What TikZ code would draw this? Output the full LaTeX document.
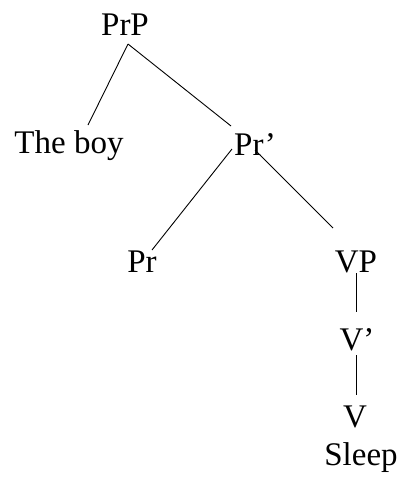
\documentclass[tikz,border=0pt]{standalone}
\usepackage{fontspec}
\setmainfont{Liberation Serif}
\usepackage{tikz}
\usetikzlibrary{positioning,calc}
\tikzset{
  cat/.style    = {font=\fontsize{33}{38}\selectfont, anchor=base, inner sep=0pt, outer sep=0pt},
  branch/.style = {draw=black, line width=0.9pt},
}
\begin{document}
\begin{tikzpicture}[x=1pt,y=-1pt]
\path[use as bounding box, fill=white] (0,0) rectangle (401,477);

% ---- the tree: labels sit on their baselines ----------------------------
\node[cat] (prp)   at (125,35)  {PrP};
\node[cat] (boy)   at (69,153)  {The boy};
\node[cat] (prbar) at (255,155) {Pr’};
\node[cat] (pr)    at (142,272) {Pr};
\node[cat] (vp)    at (356,272) {VP};
\node[cat] (vbar)  at (357,350) {V’};
\node[cat] (v)     at (355,427) {V};
\node[cat] (sleep) at (361,465) {Sleep};

% ---- branches -----------------------------------------------------------
\draw[branch] ([shift={(3,9)}]prp.base)     -- ([shift={(19,-28)}]boy.base);
\draw[branch] ([shift={(3,9)}]prp.base)     -- ([shift={(-24,-29)}]prbar.base);
\draw[branch] ([shift={(-23,-6)}]prbar.base) -- ([shift={(10,-22)}]pr.base);
\draw[branch] ([shift={(0,-5)}]prbar.base)   -- ([shift={(-23,-44)}]vp.base);
\draw[branch] ([shift={(0,1)}]vp.base)       -- ([shift={(-1,-38)}]vbar.base);
\draw[branch] ([shift={(-1,5)}]vbar.base)    -- ([shift={(1,-32)}]v.base);

\end{tikzpicture}
\end{document}
